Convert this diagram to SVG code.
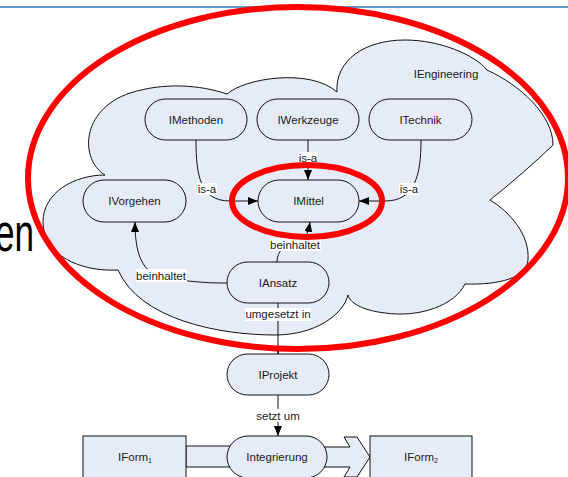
<svg xmlns="http://www.w3.org/2000/svg" width="568" height="477" viewBox="0 0 568 477">
  <style>
    .node { fill: #e6ecf7; stroke: #111; stroke-width: 1; }
    .txt { font-family: "Liberation Sans", Arial, sans-serif; font-size: 11.5px; fill: #1a1a1a; text-anchor: middle; }
    .edge { fill: none; stroke: #111; stroke-width: 1; }
    .lblbg { fill: #ffffff; }
    .mark { fill: none; stroke: #ff0000; stroke-width: 6; }
  </style>
  <defs>
    <marker id="arr" markerUnits="userSpaceOnUse" markerWidth="10" markerHeight="8" refX="10" refY="4" orient="auto">
      <path d="M0,0 L10,4 L0,8 z" fill="#000"/>
    </marker>
    <marker id="arrSmall" markerUnits="userSpaceOnUse" markerWidth="6" markerHeight="5" refX="6" refY="2.5" orient="auto">
      <path d="M0,0 L6,2.5 L0,5 z" fill="#000"/>
    </marker>
  </defs>

  <!-- slide header rule -->
  <line x1="0" y1="7" x2="568" y2="7" stroke="#2e74b5" stroke-width="1.5"/>

  <!-- slide title fragment -->
  <text transform="translate(34,251) scale(0.65,1)" font-family="Liberation Sans, Arial, sans-serif" font-size="54" fill="#000" text-anchor="end">en</text>

  <!-- IEngineering cloud -->
  <g id="IEngineering">
    <path class="node" d="M105,175
      C80,160 80,110 130,93 C165,82 200,85 227,94
      C245,78 310,68 337,92
      C335,60 365,40 405,40 C440,40 475,55 487,70
      C520,85 553,115 553,145
      Q525,172 490,200
      C510,212 530,235 528,260 C526,278 500,285 465,284
      C455,305 420,318 385,313 C360,310 350,302 348,295
      C343,315 315,335 275,335 C220,335 140,320 118,270
      C80,272 43,255 43,222 C43,192 75,175 105,175 z"/>
    <text class="txt" x="446" y="78">IEngineering</text>
  </g>

  <!-- bands between IForm boxes and Integrierung -->
  <g id="flow-bands">
    <rect class="node" x="186" y="446" width="60" height="21"/>
    <path class="node" d="M310,447 L350,447 L344,437 L357,437 L370,457 L357,477 L344,477 L350,467 L310,467 z"/>
  </g>

  <!-- connectors -->
  <g id="connectors">
    <path class="edge" d="M196,140 C196,175 200,201 230,201 L258,201" marker-end="url(#arr)"/>
    <path class="edge" d="M308,140 L308,180" marker-end="url(#arr)"/>
    <path class="edge" d="M421,140 C421,175 415,201 385,201 L359,201" marker-end="url(#arr)"/>
    <path class="edge" d="M277,262 C277,250 285,246 295,244 C305,241 308,234 310,222" marker-end="url(#arr)"/>
    <path class="edge" d="M227,283 C200,283 190,281 170,279 C145,276 135,260 135,222" marker-end="url(#arr)"/>
    <path class="edge" d="M278,303 L278,354" marker-end="url(#arrSmall)"/>
    <path class="edge" d="M278,395 L278,436" marker-end="url(#arr)"/>
  </g>

  <!-- connector labels -->
  <g id="edge-labels">
    <rect class="lblbg" x="197" y="183" width="20" height="12"/>
    <text class="txt" x="207" y="193">is-a</text>
    <rect class="lblbg" x="298" y="152" width="20" height="12"/>
    <text class="txt" x="308" y="162">is-a</text>
    <rect class="lblbg" x="399" y="183" width="20" height="12"/>
    <text class="txt" x="409" y="193">is-a</text>
    <rect class="lblbg" x="270" y="238" width="51" height="13"/>
    <text class="txt" x="295" y="249">beinhaltet</text>
    <rect class="lblbg" x="136" y="269" width="51" height="13"/>
    <text class="txt" x="161" y="280">beinhaltet</text>
    <rect class="lblbg" x="245" y="308" width="66" height="13"/>
    <text class="txt" x="278" y="318">umgesetzt in</text>
    <rect class="lblbg" x="255" y="409" width="46" height="13"/>
    <text class="txt" x="278" y="420">setzt um</text>
  </g>

  <!-- concept nodes -->
  <g id="IMethoden">
    <rect class="node" x="145" y="99" width="102" height="41" rx="20.5"/>
    <text class="txt" x="196" y="123.5">IMethoden</text>
  </g>
  <g id="IWerkzeuge">
    <rect class="node" x="257" y="99" width="102" height="41" rx="20.5"/>
    <text class="txt" x="308" y="123.5">IWerkzeuge</text>
  </g>
  <g id="ITechnik">
    <rect class="node" x="369" y="99" width="103" height="41" rx="20.5"/>
    <text class="txt" x="420.5" y="123.5">ITechnik</text>
  </g>
  <g id="IVorgehen">
    <rect class="node" x="83" y="180" width="103" height="42" rx="21"/>
    <text class="txt" x="134.5" y="205">IVorgehen</text>
  </g>
  <g id="IMittel">
    <rect class="node" x="258" y="180" width="101" height="42" rx="21"/>
    <text class="txt" x="308.5" y="205">IMittel</text>
  </g>
  <g id="IAnsatz">
    <rect class="node" x="227" y="262" width="102" height="41" rx="20.5"/>
    <text class="txt" x="278" y="286.5">IAnsatz</text>
  </g>
  <g id="IProjekt">
    <rect class="node" x="227" y="354" width="102" height="41" rx="20.5"/>
    <text class="txt" x="278" y="378.5">IProjekt</text>
  </g>
  <g id="Integrierung">
    <rect class="node" x="227" y="436" width="100" height="42" rx="21"/>
    <text class="txt" x="277" y="461">Integrierung</text>
  </g>
  <g id="IForm1">
    <rect class="node" x="83" y="436" width="103" height="42"/>
    <text class="txt" x="135" y="461">IForm<tspan font-size="7" dy="1.5">1</tspan></text>
  </g>
  <g id="IForm2">
    <rect class="node" x="370" y="436" width="102" height="42"/>
    <text class="txt" x="421" y="461">IForm<tspan font-size="7" dy="1.5">2</tspan></text>
  </g>

  <!-- red highlight ellipses -->
  <g id="highlights">
    <ellipse class="mark" cx="298" cy="178" rx="270" ry="171"/>
    <ellipse class="mark" cx="307" cy="201" rx="75" ry="36"/>
  </g>
</svg>
